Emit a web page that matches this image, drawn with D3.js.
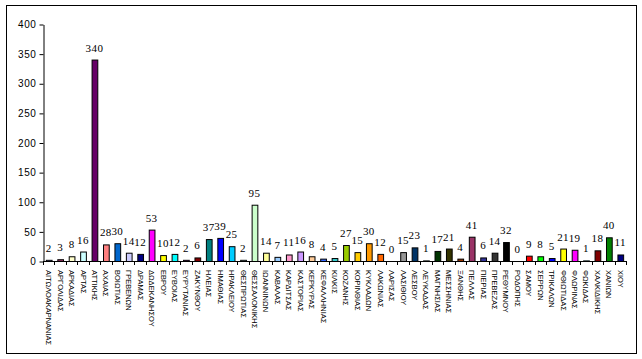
<!DOCTYPE html>
<html>
<head>
<meta charset="utf-8">
<script src="https://cdn.jsdelivr.net/npm/d3@7"></script>
<style>
    body { margin: 0; background: #fff; }
    .tick-label { font-family: "Liberation Sans", Arial, sans-serif; font-size: 10px; letter-spacing: 0.6px; }
    .value { font-family: "Liberation Serif", "Times New Roman", serif; font-size: 11px; letter-spacing: 0.4px; }
    .cat { font-family: "Liberation Sans", Arial, sans-serif; font-size: 7.5px; }
</style>
</head>
<body>
<div id="chart"></div>
<script>
// prefectures and counts
const categories = [
    'ΑΙΤΩΛΟΑΚΑΡΝΑΝΙΑΣ', 'ΑΡΓΟΛΙΔΑΣ', 'ΑΡΚΑΔΙΑΣ', 'ΑΡΤΑΣ', 'ΑΤΤΙΚΗΣ', 'ΑΧΑΙΑΣ', 'ΒΟΙΩΤΙΑΣ',
    'ΓΡΕΒΕΝΩΝ', 'ΔΡΑΜΑΣ', 'ΔΩΔΕΚΑΝΗΣΟΥ', 'ΕΒΡΟΥ', 'ΕΥΒΟΙΑΣ', 'ΕΥΡΥΤΑΝΙΑΣ', 'ΖΑΚΥΝΘΟΥ',
    'ΗΛΕΙΑΣ', 'ΗΜΑΘΙΑΣ', 'ΗΡΑΚΛΕΙΟΥ', 'ΘΕΣΠΡΩΤΙΑΣ', 'ΘΕΣΣΑΛΟΝΙΚΗΣ', 'ΙΩΑΝΝΙΝΩΝ', 'ΚΑΒΑΛΑΣ',
    'ΚΑΡΔΙΤΣΑΣ', 'ΚΑΣΤΟΡΙΑΣ', 'ΚΕΡΚΥΡΑΣ', 'ΚΕΦΑΛΛΗΝΙΑΣ', 'ΚΙΛΚΙΣ', 'ΚΟΖΑΝΗΣ', 'ΚΟΡΙΝΘΙΑΣ',
    'ΚΥΚΛΑΔΩΝ', 'ΛΑΚΩΝΙΑΣ', 'ΛΑΡΙΣΑΣ', 'ΛΑΣΙΘΙΟΥ', 'ΛΕΣΒΟΥ', 'ΛΕΥΚΑΔΑΣ', 'ΜΑΓΝΗΣΙΑΣ',
    'ΜΕΣΣΗΝΙΑΣ', 'ΞΑΝΘΗΣ', 'ΠΕΛΛΑΣ', 'ΠΙΕΡΙΑΣ', 'ΠΡΕΒΕΖΑΣ', 'ΡΕΘΥΜΝΟΥ', 'ΡΟΔΟΠΗΣ', 'ΣΑΜΟΥ',
    'ΣΕΡΡΩΝ', 'ΤΡΙΚΑΛΩΝ', 'ΦΘΙΩΤΙΔΑΣ', 'ΦΛΩΡΙΝΑΣ', 'ΦΩΚΙΔΑΣ', 'ΧΑΛΚΙΔΙΚΗΣ', 'ΧΑΝΙΩΝ', 'ΧΙΟΥ'
];

const values = [
    2, 3, 8, 16, 340, 28, 30, 14, 12, 53, 10, 12, 2, 6, 37, 39, 25, 2, 95, 14, 7,
    11, 16, 8, 4, 5, 27, 15, 30, 12, 0, 15, 23, 1, 17, 21, 4, 41, 6, 14, 32, 0, 9,
    8, 5, 21, 19, 1, 18, 40, 11
];

const yTicks = [0, 50, 100, 150, 200, 250, 300, 350, 400];

// old spreadsheet "vary colours by point" order
const barColors = [
    '#9999FF', '#993366', '#FFFFCC', '#CCFFFF', '#660066', '#FF8080', '#0066CC', '#CCCCFF',
    '#000080', '#FF00FF', '#FFFF00', '#00FFFF', '#800080', '#800000', '#008080', '#0000FF',
    '#00CCFF', '#CCFFFF', '#CCFFCC', '#FFFF99', '#99CCFF', '#FF99CC', '#CC99FF', '#FFCC99',
    '#3366FF', '#33CCCC', '#99CC00', '#FFCC00', '#FF9900', '#FF6600', '#666699', '#969696',
    '#003366', '#339966', '#003300', '#333300', '#993300', '#993366', '#333399', '#333333',
    '#000000', '#FFFFFF', '#FF0000', '#00FF00', '#0000FF', '#FFFF00', '#FF00FF', '#00FFFF',
    '#800000', '#008000', '#000080'
];

const width = 642;
const height = 359;
const plot = { left: 43, right: 626, top: 24, bottom: 261 };

const svg = d3.select('#chart')
    .append('svg')
    .attr('width', width)
    .attr('height', height);

// outer frame
svg.append('rect')
    .attr('x', 6.5)
    .attr('y', 5.5)
    .attr('width', 630)
    .attr('height', 348)
    .attr('fill', 'none')
    .attr('stroke', '#000')
    .attr('stroke-width', 1);

const x = d3.scaleBand()
    .domain(categories)
    .range([plot.left, plot.right])
    .paddingInner(0.5)
    .paddingOuter(0.25);

const y = d3.scaleLinear()
    .domain([0, 400])
    .range([plot.bottom, plot.top]);

// y axis
const yAxis = svg.append('g')
    .attr('transform', `translate(${plot.left + 0.5}, 0.5)`)
    .call(d3.axisLeft(y).tickValues(yTicks).tickSize(4).tickSizeOuter(0));

yAxis.select('.domain').attr('stroke', '#000');
yAxis.selectAll('.tick line').attr('stroke', '#000');
yAxis.selectAll('.tick text')
    .attr('class', 'tick-label')
    .attr('x', -7)
    .attr('fill', '#000')
    .attr('font-family', null)
    .attr('font-size', null);

// bars
svg.append('g')
    .selectAll('rect')
    .data(values)
    .enter()
    .append('rect')
    .attr('x', (d, i) => x(categories[i]) + 0.5)
    .attr('y', (d) => y(d) + 0.5)
    .attr('width', x.bandwidth())
    .attr('height', (d) => Math.max(0, y(0) - y(d)))
    .attr('fill', (d, i) => barColors[i])
    .attr('stroke', '#000')
    .attr('stroke-width', 1);

// x axis line and category ticks
const step = x.step();
const xGroup = svg.append('g');

xGroup.append('line')
    .attr('x1', plot.left)
    .attr('x2', plot.right)
    .attr('y1', y(0) + 0.5)
    .attr('y2', y(0) + 0.5)
    .attr('stroke', '#000');

d3.range(categories.length + 1).forEach((i) => {
    const tx = Math.round(x(categories[0]) - step * 0.25 + i * step) + 0.5;
    xGroup.append('line')
        .attr('x1', tx)
        .attr('x2', tx)
        .attr('y1', y(0))
        .attr('y2', y(0) + 4)
        .attr('stroke', '#000');
});

// category labels, rotated to read downward
xGroup.selectAll('text')
    .data(categories)
    .enter()
    .append('text')
    .attr('class', 'cat')
    .attr('transform', (d) => `translate(${x(d) + x.bandwidth() / 2 - 2.5}, ${y(0) + 9}) rotate(90)`)
    .text((d) => d);

// value labels
svg.append('g')
    .selectAll('text')
    .data(values)
    .enter()
    .append('text')
    .attr('class', 'value')
    .attr('text-anchor', 'middle')
    .attr('x', (d, i) => x(categories[i]) + x.bandwidth() / 2)
    .attr('y', (d) => y(d) - 8)
    .text((d) => d);
</script>
</body>
</html>
